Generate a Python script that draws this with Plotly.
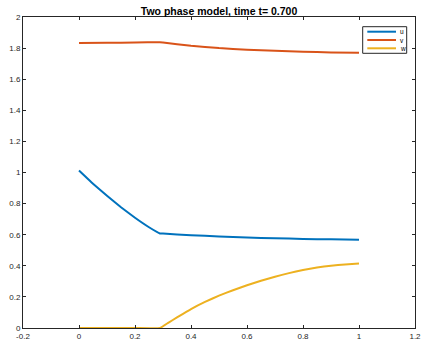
import plotly.graph_objects as go

x_u = [0.0, 0.05, 0.1, 0.15, 0.2, 0.25, 0.289, 0.3, 0.4, 0.5, 0.6, 0.7, 0.8, 0.9, 1.0]
u = [1.013, 0.928, 0.850, 0.776, 0.709, 0.648, 0.608, 0.607, 0.597, 0.589, 0.582, 0.577, 0.573, 0.570, 0.568]

x_v = [0.0, 0.1, 0.2, 0.289, 0.3, 0.4, 0.5, 0.6, 0.7, 0.8, 0.9, 1.0]
v = [1.832, 1.834, 1.836, 1.838, 1.836, 1.815, 1.800, 1.790, 1.783, 1.777, 1.772, 1.770]

x_w = [0.0, 0.1, 0.2, 0.289, 0.32, 0.35, 0.4, 0.45, 0.5, 0.55, 0.6, 0.65, 0.7, 0.75, 0.8, 0.85, 0.9, 0.95, 1.0]
w = [0.0, 0.0, 0.0, 0.0, 0.035, 0.068, 0.122, 0.168, 0.208, 0.243, 0.275, 0.304, 0.330, 0.353, 0.373, 0.389, 0.401, 0.409, 0.414]

series_names = ["u", "v", "w"]
series_colors = ["#0072BD", "#D95319", "#EDB120"]

x_ticks = [-0.2, 0, 0.2, 0.4, 0.6, 0.8, 1, 1.2]
x_tick_labels = ["-0.2", "0", "0.2", "0.4", "0.6", "0.8", "1", "1.2"]
y_ticks = [0, 0.2, 0.4, 0.6, 0.8, 1, 1.2, 1.4, 1.6, 1.8, 2]
y_tick_labels = ["0", "0.2", "0.4", "0.6", "0.8", "1", "1.2", "1.4", "1.6", "1.8", "2"]

W, H = 423, 342
ML, MR, MT, MB = 23, 8, 17, 14
PW, PH = W - ML - MR, H - MT - MB


def px_x(px):
    return (px - ML) / PW


def px_y(py):
    return (H - MB - py) / PH


fig = go.Figure()
for xs, ys, name, color in zip([x_u, x_v, x_w], [u, v, w], series_names, series_colors):
    fig.add_trace(go.Scatter(x=xs, y=ys, mode="lines", name=name,
                             line=dict(color=color, width=2, shape="spline", smoothing=0.3),
                             showlegend=False, hoverinfo="skip"))

axis_common = dict(showgrid=False, zeroline=False, showline=True, linecolor="#262626",
                   linewidth=1, mirror="allticks", ticks="inside", ticklen=3,
                   tickcolor="#262626", tickfont=dict(size=8, color="#262626"),
                   automargin=False)

# Manual MATLAB-style legend (compact)
shapes = [dict(type="rect", xref="paper", yref="paper",
               x0=px_x(362.7), x1=px_x(406.7), y0=px_y(53.3), y1=px_y(26.7),
               line=dict(color="#262626", width=1), fillcolor="white", layer="above")]
annotations = []
row_y = [31.7, 40.0, 48.3]
for name, color, ry in zip(series_names, series_colors, row_y):
    shapes.append(dict(type="line", xref="paper", yref="paper",
                       x0=px_x(367.3), x1=px_x(396.0), y0=px_y(ry), y1=px_y(ry),
                       line=dict(color=color, width=2), layer="above"))
    annotations.append(dict(text=name, xref="paper", yref="paper",
                            x=px_x(398.0), y=px_y(ry), xanchor="left", yanchor="middle",
                            showarrow=False, font=dict(size=6.5, color="#000000")))

fig.update_layout(
    width=W, height=H,
    margin=dict(l=ML, r=MR, t=MT, b=MB),
    paper_bgcolor="white", plot_bgcolor="white",
    font=dict(family="Liberation Sans, Arial, sans-serif", color="#262626"),
    title=dict(text="<b>Two phase model, time t= 0.700</b>", x=0.5, xref="paper",
               xanchor="center", y=1 - 11.5 / H, yanchor="middle",
               font=dict(size=10.5, color="#000000")),
    xaxis=dict(range=[-0.2, 1.2], tickvals=x_ticks, ticktext=x_tick_labels, **axis_common),
    yaxis=dict(range=[0, 2], tickvals=y_ticks, ticktext=y_tick_labels, **axis_common),
    shapes=shapes,
    annotations=annotations,
    showlegend=False,
    hovermode=False,
)

fig.write_html("out.html", config={"displayModeBar": False},
               post_script="document.body.style.margin='0';document.body.style.overflow='hidden';")
